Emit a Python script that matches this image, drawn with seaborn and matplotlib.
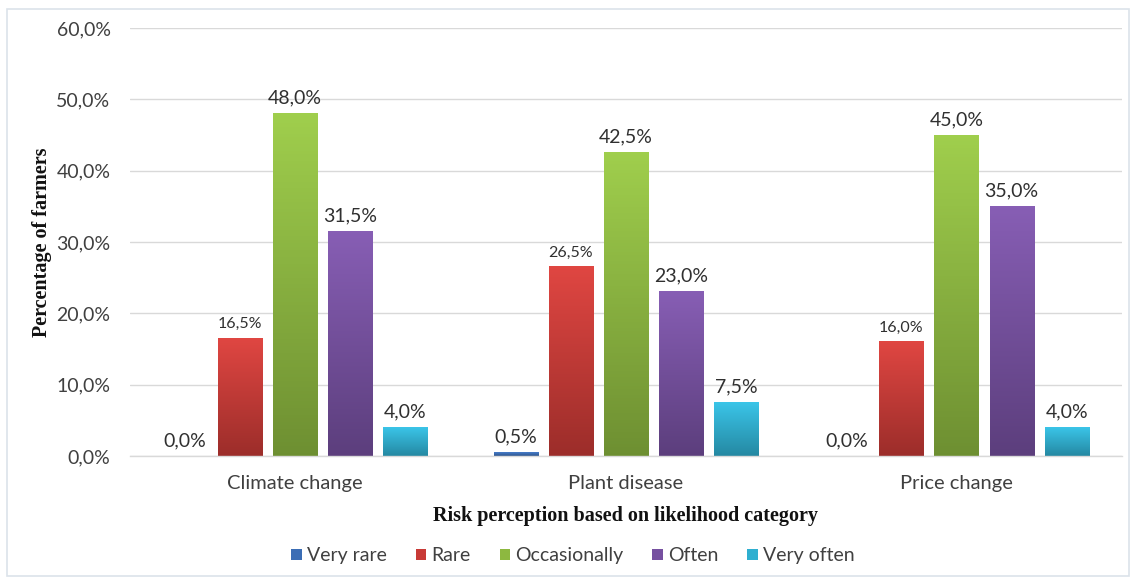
import numpy as np
import pandas as pd
import matplotlib
matplotlib.use("Agg")
import matplotlib.pyplot as plt
import matplotlib.colors as mcolors
from matplotlib.patches import Rectangle, Patch
import seaborn as sns

categories = ["Climate change", "Plant disease", "Price change"]
series = ["Very rare", "Rare", "Occasionally", "Often", "Very often"]
very_rare = [0.0, 0.5, 0.0]
rare = [16.5, 26.5, 16.0]
occasionally = [48.0, 42.5, 45.0]
often = [31.5, 23.0, 35.0]
very_often = [4.0, 7.5, 4.0]
yticks = [0, 10, 20, 30, 40, 50, 60]

colors = ["#3B6DB5", "#C83A36", "#8DB840", "#7650A0", "#2FAFD0"]

values = [very_rare, rare, occasionally, often, very_often]
rows = []
for s, vals in zip(series, values):
    for c, v in zip(categories, vals):
        rows.append({"cat": c, "series": s, "val": v})
df = pd.DataFrame(rows)

sns.set_theme(style="white")
plt.rcParams["font.family"] = ["Lato", "DejaVu Sans"]

fig = plt.figure(figsize=(11.32, 5.79), dpi=100)
ax = fig.add_axes([0.1148, 0.2124, 0.8762, 0.7392])

sns.barplot(data=df, x="cat", y="val", hue="series", order=categories,
            hue_order=series, palette=colors, width=0.833, gap=0.2,
            ax=ax, legend=False, saturation=1, errorbar=None)

ax.set_ylim(0, 60)
ax.set_xlim(-0.5, 2.5)
ax.set_yticks(yticks)
ax.set_yticklabels([f"{t:.1f}".replace(".", ",") + "%" for t in yticks],
                   fontsize=14, color="#404040")
ax.tick_params(axis="y", pad=14, length=0)
ax.tick_params(axis="x", length=0, labelsize=14.5, labelcolor="#404040", pad=14)
ax.yaxis.grid(True, color="#D9D9D9", linewidth=1)
ax.set_axisbelow(True)
for sp in ["top", "right", "left"]:
    ax.spines[sp].set_visible(False)
ax.spines["bottom"].set_color("#D9D9D9")
ax.spines["bottom"].set_linewidth(1)

# gradient fill of bars
patches = [p for p in ax.patches]
k = 0
for si, s in enumerate(series):
    base = np.array(mcolors.to_rgb(colors[si]))
    top = np.clip(base * 1.08 + 0.03, 0, 1)
    bot = base * 0.78
    grad = np.linspace(0, 1, 100)[:, None, None]
    img = top * (1 - grad) + bot * grad
    for ci, c in enumerate(categories):
        p = patches[k]
        k += 1
        x0 = p.get_x(); w = p.get_width(); h = p.get_height()
        if h > 0:
            p.set_visible(False)
            ax.imshow(img, extent=[x0, x0 + w, 0, h], aspect="auto",
                      origin="upper", zorder=2)
        v = values[si][ci]
        fs = 11.5 if s == "Rare" else 14
        ax.text(x0 + w / 2, v + 1.0, f"{v:.1f}".replace(".", ",") + "%",
                ha="center", va="bottom", fontsize=fs, color="#303030", zorder=3)

ax.set_xlim(-0.5, 2.5)
ax.set_ylim(0, 60)
ax.set_xlabel("Risk perception based on likelihood category",
              fontfamily="Liberation Serif", fontweight="bold", fontsize=14.5,
              color="#111111", labelpad=10)
ax.set_ylabel("Percentage of farmers", fontfamily="Liberation Serif",
              fontweight="bold", fontsize=14.5, color="#111111", labelpad=3)

handles = [Patch(facecolor=colors[i], edgecolor="none") for i in range(5)]
fig.legend(handles, series, loc="center", bbox_to_anchor=(0.506, 0.04),
           ncol=5, frameon=False, fontsize=14, handlelength=0.55,
           handleheight=0.55, handletextpad=0.25, columnspacing=1.5,
           labelcolor="#404040")

fig.patches.append(Rectangle((0.006, 0.005), 0.991, 0.98, transform=fig.transFigure,
                             fill=False, edgecolor="#DCE3EA", linewidth=1.2))

fig.savefig("out.png", dpi=100)
